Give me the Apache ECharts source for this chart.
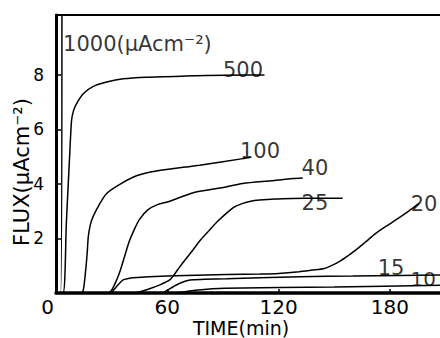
<!DOCTYPE html>
<html>
<head>
<meta charset="utf-8">
<script src="https://cdn.jsdelivr.net/npm/echarts@6/dist/echarts.min.js"></script>
<style>
html,body{margin:0;padding:0;background:#fff;}
#chart{width:440px;height:338px;}
</style>
</head>
<body>
<div id="chart"></div>
<script>
// ---- data ----
const xTicks = [0, 60, 120, 180];
const yTicks = [2, 4, 6, 8];

const t1000 = [0, 2.5, 3.2];
const v1000 = [0, 0, 11];

const t500 = [0, 3.8, 5.6, 7.5, 8.4, 9.5, 11.1, 14.7, 20.1, 27.3, 36.2, 48.8, 70, 91.8, 112.4];
const v500 = [0, 0, 2.6, 5.24, 6.34, 6.7, 6.95, 7.31, 7.58, 7.74, 7.86, 7.92, 7.96, 7.99, 8.0];

const t100 = [0, 13.5, 14.7, 15.8, 16.8, 17.4, 18.5, 20.1, 23.7, 27.3, 33.5, 43.4, 54.1, 77.4, 100.7, 105];
const v100 = [0, 0, 0.1, 0.7, 1.45, 2.06, 2.5, 2.82, 3.29, 3.65, 3.95, 4.3, 4.48, 4.69, 4.93, 4.98];

const t40 = [0, 28, 30, 32.5, 34.5, 37, 39.5, 42, 45, 49.5, 55, 60.5, 74, 88.5, 100.7, 116, 127.6, 133];
const v40 = [0, 0, 0.1, 0.45, 0.8, 1.35, 1.9, 2.3, 2.7, 3.05, 3.25, 3.35, 3.68, 3.85, 4.02, 4.12, 4.2, 4.22];

const t25 = [0, 42, 50, 56, 61.3, 64, 66.7, 70, 73.8, 78, 82.8, 87, 91.8, 96, 100.7, 105, 109.7, 118, 127.6, 140, 154.5];
const v25 = [0, 0, 0.15, 0.3, 0.48, 0.7, 0.96, 1.25, 1.58, 1.95, 2.31, 2.62, 2.92, 3.15, 3.29, 3.37, 3.41, 3.45, 3.47, 3.48, 3.48];

const t20 = [0, 29.5, 31, 33.5, 36.2, 39, 41.6, 50, 70, 91.8, 110, 120, 131, 138, 144.6, 151, 156, 161.7, 167, 172.4, 178, 183, 188, 192, 195.7];
const v20 = [0, 0, 0.1, 0.3, 0.48, 0.53, 0.56, 0.6, 0.64, 0.68, 0.7, 0.72, 0.78, 0.84, 0.9, 1.09, 1.3, 1.58, 1.88, 2.19, 2.45, 2.67, 2.9, 3.1, 3.29];

const t15 = [0, 57, 60.5, 63, 66.8, 72.2, 80, 92, 110, 131.5, 160, 185, 208];
const v15 = [0, 0, 0.12, 0.22, 0.36, 0.48, 0.5, 0.52, 0.56, 0.6, 0.62, 0.64, 0.66];

const t10 = [0, 62, 75, 91, 150, 208];
const v10 = [0, 0, 0.1, 0.17, 0.22, 0.29];

const labelText = ['1000(μAcm⁻²)', '500', '100', '40', '25', '20', '15', '10'];
const labelT = [3.8, 100.8, 110, 139.6, 139.6, 198.4, 180.6, 198];
const labelV = [9.12, 8.2, 5.2, 4.58, 3.3, 3.26, 0.92, 0.51];

const yTitle = 'FLUX(μAcm⁻²)';
const xTitle = 'TIME(min)';

// ---- build chart ----
const FONT = 'DejaVu Sans';
const zip = (t, v) => t.map((x, i) => [x, v[i]]);
const curves = [[t1000, v1000], [t500, v500], [t100, v100], [t40, v40], [t25, v25], [t20, v20], [t15, v15], [t10, v10]];

const lineSeries = curves.map(([t, v]) => ({
  type: 'line',
  data: zip(t, v),
  showSymbol: false,
  smooth: 0.25,
  clip: true,
  lineStyle: { color: '#000', width: 1.5 },
  silent: true,
  z: 3
}));

const labelSeries = {
  type: 'scatter',
  symbolSize: 0,
  silent: true,
  z: 5,
  data: labelText.map((s, i) => ({
    value: [labelT[i], labelV[i]],
    label: {
      show: true,
      position: 'inside',
      formatter: s,
      align: i === 0 ? 'left' : 'center',
      verticalAlign: 'middle',
      color: '#000',
      fontFamily: FONT,
      fontSize: i === 7 ? 20 : 21
    }
  }))
};

const chart = echarts.init(document.getElementById('chart'), null, { renderer: 'svg' });
chart.setOption({
  animation: false,
  backgroundColor: '#fff',
  grid: { left: 56, right: 0, top: 15, bottom: 45, containLabel: false },
  xAxis: [{
    type: 'value', min: 0, max: 207, position: 'bottom',
    axisLine: { show: true, onZero: false, lineStyle: { color: '#000', width: 3.5 } },
    axisTick: { show: true, inside: true, length: 4, customValues: xTicks, lineStyle: { color: '#000', width: 1.5 } },
    axisLabel: {
      customValues: xTicks, margin: 4, color: '#000', fontFamily: FONT, fontSize: 20, lineHeight: 20,
      formatter: v => v === 0 ? '{z|0}' : String(v),
      rich: { z: { padding: [0, 17, 0, 0], fontFamily: FONT, fontSize: 20, lineHeight: 20, color: '#000' } }
    },
    splitLine: { show: false }
  }, {
    type: 'value', min: 0, max: 207, position: 'top',
    axisLine: { show: true, onZero: false, lineStyle: { color: '#000', width: 2 } },
    axisTick: { show: false }, axisLabel: { show: false }, splitLine: { show: false }
  }],
  yAxis: {
    type: 'value', min: 0, max: 10.2,
    axisLine: { show: true, onZero: false, lineStyle: { color: '#000', width: 3 } },
    axisTick: { show: true, inside: true, length: 5, customValues: yTicks, lineStyle: { color: '#000', width: 1.5 } },
    axisLabel: { customValues: yTicks, margin: 12, color: '#000', fontFamily: FONT, fontSize: 17 },
    splitLine: { show: false }
  },
  graphic: [
    { type: 'text', x: 22, y: 172, rotation: Math.PI / 2,
      style: { text: yTitle, fill: '#000', font: '21px "DejaVu Sans"', textAlign: 'center', textVerticalAlign: 'middle' } },
    { type: 'text', x: 241, y: 328,
      style: { text: xTitle, fill: '#000', font: '19px "DejaVu Sans"', lineHeight: 19, textAlign: 'center', textVerticalAlign: 'middle' } }
  ],
  series: [...lineSeries, labelSeries]
});
</script>
</body>
</html>
